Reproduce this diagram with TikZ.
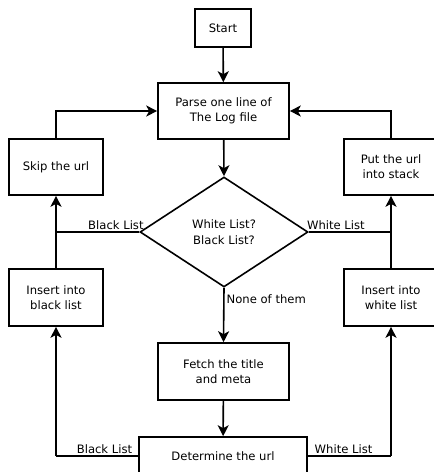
\documentclass[tikz,border=0pt]{standalone}
\usepackage{fontspec}
\setmainfont{DejaVu Sans}
\usetikzlibrary{arrows.meta,shapes.geometric}
\begin{document}
\begin{tikzpicture}[x=1pt,y=-1pt,
  box/.style={draw,line width=1.6pt,inner sep=0pt,align=center,font=\fontsize{11.6}{15}\selectfont},
  dia/.style={draw,line width=1.6pt,shape=diamond,inner sep=0pt,minimum width=168pt,minimum height=110pt,align=center,font=\fontsize{11.6}{16}\selectfont},
  conn/.style={line width=1.6pt},
  arr/.style={conn,-{Stealth[length=11pt,width=11pt,inset=3pt]}},
  lbl/.style={font=\fontsize{11.6}{14}\selectfont,inner sep=2pt}]
\path[clip] (0,0) rectangle (434,472);
\node[box,minimum width=56pt,minimum height=38pt] (start) at (223,28) {Start};
\node[box,minimum width=131pt,minimum height=56pt] (parse) at (223.5,111) {Parse one line of\\The Log file};
\node[box,minimum width=94pt,minimum height=56pt] (skip) at (56,167) {Skip the url};
\node[box,minimum width=94pt,minimum height=56pt] (put) at (391,167) {Put the url\\into stack};
\node[dia] (dec) at (224,232) {White List?\\Black List?};
\node[box,minimum width=94pt,minimum height=57pt] (insb) at (56,297.5) {Insert into\\black list};
\node[box,minimum width=94pt,minimum height=57pt] (insw) at (391,297.5) {Insert into\\white list};
\node[box,minimum width=131pt,minimum height=57pt] (fetch) at (223.5,371.5) {Fetch the title\\and meta};
\node[box,minimum width=168pt,minimum height=38pt] (det) at (223,456) {Determine the url};
\coordinate (jl) at (56,232);
\coordinate (jr) at (391,232);
\coordinate (bl) at (56,456);
\coordinate (br) at (391,456);
\draw[arr] (start) -- (parse);
\draw[arr] (parse) -- (dec.north);
\draw[conn] (dec.west) -- node[lbl,above,pos=0.28] {Black List} (jl);
\draw[arr] (jl) -- (skip.south);
\draw[conn] (insb.north) -- (jl);
\draw[conn] (dec.east) -- node[lbl,above,pos=0.33] {White List} (jr);
\draw[arr] (jr) -- (put.south);
\draw[conn] (insw.north) -- (jr);
\draw[arr] (skip.north) |- (parse.west);
\draw[arr] (put.north) |- (parse.east);
\draw[arr] (dec.south) -- node[lbl,right,pos=0.21] {None of them} (fetch.north);
\draw[arr] (fetch) -- (det);
\draw[conn] (det.west) -- node[lbl,above,pos=0.41] {Black List} (bl);
\draw[arr] (bl) -- (insb.south);
\draw[conn] (det.east) -- node[lbl,above,pos=0.43] {White List} (br);
\draw[arr] (br) -- (insw.south);
\end{tikzpicture}
\end{document}
